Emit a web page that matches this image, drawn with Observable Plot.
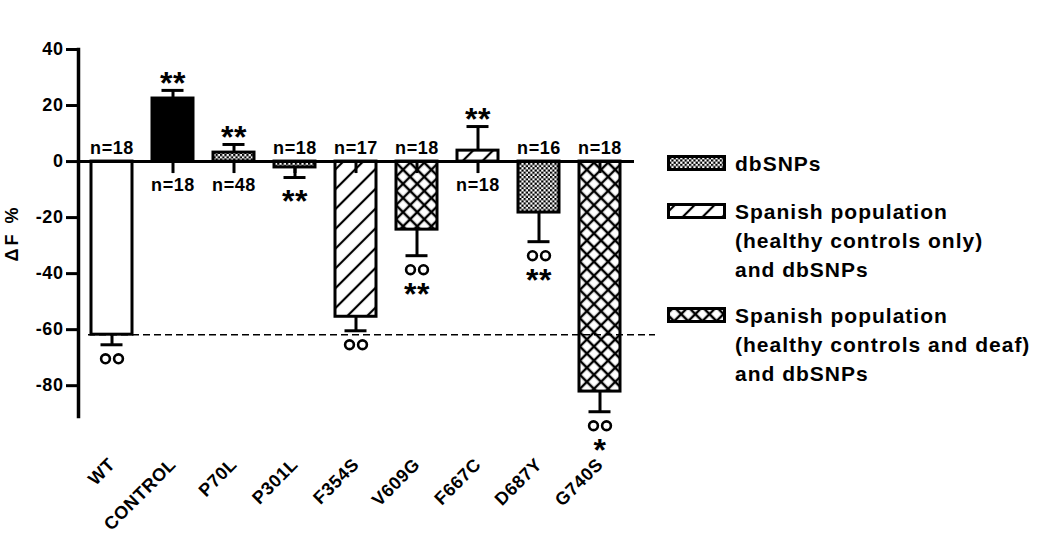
<!DOCTYPE html>
<html><head><meta charset="utf-8">
<script src="https://cdn.jsdelivr.net/npm/d3@7"></script>
<script src="https://cdn.jsdelivr.net/npm/@observablehq/plot@0.6"></script>
<style>
body{margin:0;background:#fff;}
#wrap{position:relative;width:1048px;height:534px;font-family:"Liberation Sans",Arial,sans-serif;font-weight:bold;color:#000;}
.item{position:absolute;left:667px;display:flex;align-items:flex-start;font-size:21px;letter-spacing:1px;line-height:29px;}
.item svg{flex:none;margin-right:8px;margin-top:6px;}
g[aria-label="y-axis label"] text{letter-spacing:3px;}
</style></head><body>
<svg width="0" height="0" style="position:absolute">
<defs>
<pattern id="pat-dbsnp" patternUnits="userSpaceOnUse" width="4.4" height="4.4">
<rect width="4.4" height="4.4" fill="#fff"/><rect width="2.2" height="2.2" fill="#000"/><rect x="2.2" y="2.2" width="2.2" height="2.2" fill="#000"/>
</pattern>
<pattern id="pat-hatch" patternUnits="userSpaceOnUse" width="14" height="14" patternTransform="rotate(45)">
<path d="M7,0V14" stroke="#000" stroke-width="2.2"/>
</pattern>
<pattern id="pat-cross" patternUnits="userSpaceOnUse" width="10" height="10" patternTransform="rotate(45)">
<path d="M0,5H10M5,0V10" stroke="#000" stroke-width="2.4"/>
</pattern>
</defs></svg>
<div id="wrap"></div>
<script>
const categories = ["WT","CONTROL","P70L","P301L","F354S","V609G","F667C","D687Y","G740S"];
const means = [-61.8, 22.5, 3.2, -2.1, -55.4, -24.3, 3.9, -18.2, -82.1];
const sems = [3.6, 2.9, 2.9, 3.6, 5.0, 9.3, 8.6, 10.4, 7.2];
const counts = [18, 18, 48, 18, 17, 18, 18, 16, 18];
const stars = ["", "**", "**", "**", "", "**", "**", "**", "*"];
const circles = ["oo", "", "", "", "oo", "oo", "", "oo", "oo"];
const groups = ["wt","control","dbsnp","dbsnp","healthy","deaf","healthy","dbsnp","deaf"];
const yTicks = [40, 20, 0, -20, -40, -60, -80];
const legendGroups = ["dbsnp","healthy","deaf"];
const legendLabels = [
  ["dbSNPs"],
  ["Spanish population","(healthy controls only)","and dbSNPs"],
  ["Spanish population","(healthy controls and deaf)","and dbSNPs"]
];
const fills = {wt:"#fff", control:"#000", dbsnp:"url(#pat-dbsnp)", healthy:"url(#pat-hatch)", deaf:"url(#pat-cross)"};

const rows = categories.map((c, i) => ({
  cat: c, mean: means[i], sem: sems[i], n: counts[i], stars: stars[i], circles: circles[i],
  group: groups[i], end: means[i] + (means[i] >= 0 ? 1 : -1) * sems[i], label: "n=" + counts[i]
}));
const up = rows.filter(d => d.mean >= 0);
const down = rows.filter(d => d.mean < 0);
const starsUp = up.filter(d => d.stars);
const starsDown = down.filter(d => d.stars && !d.circles);
const starsDownC = down.filter(d => d.stars && d.circles);
const withCircles = down.filter(d => d.circles);

const chart = Plot.plot({
  width: 1048, height: 534,
  marginLeft: 78, marginRight: 414, marginTop: 49, marginBottom: 118,
  x: {domain: categories, paddingInner: 0.32, paddingOuter: 0.16},
  y: {domain: [-91, 40]},
  color: {type: "identity"},
  style: {fontFamily: '"Liberation Sans", Arial, sans-serif', fontWeight: "bold", fontSize: "18px", color: "#000", background: "#fff", letterSpacing: "0.6px"},
  marks: [
    Plot.ruleX(rows, {x: "cat", y1: 0, y2: 0, insetBottom: -12, strokeWidth: 3}),
    Plot.ruleY([means[0]], {insetLeft: 10, insetRight: -21, strokeDasharray: "7,4", strokeWidth: 1.5}),
    Plot.barY(rows, {x: "cat", y: "mean", fill: d => fills[d.group], stroke: "#000", strokeWidth: 3}),
    Plot.ruleX(rows, {x: "cat", y1: "mean", y2: "end", strokeWidth: 3}),
    Plot.tickY(rows, {x: "cat", y: "end", strokeWidth: 3, insetLeft: 9.5, insetRight: 9.5}),
    Plot.ruleY([0], {strokeWidth: 3}),
    Plot.frame({anchor: "left", strokeWidth: 3.5}),
    Plot.axisY({ticks: yTicks, tickSize: 12, tickPadding: 3, tickFormat: d => String(d), strokeWidth: 3, fontSize: 18,
      label: "ΔF %", labelAnchor: "center", labelOffset: 73, labelArrow: "none"}),
    Plot.axisX({tickRotate: -45, tickSize: 0, tickPadding: 45, fontSize: 18, label: null}),
    Plot.text(down, {x: "cat", y: 0, text: "label", dy: -8, lineAnchor: "bottom", fontSize: 18}),
    Plot.text(up, {x: "cat", y: 0, text: "label", dy: 17, lineAnchor: "top", fontSize: 18}),
    Plot.text(starsUp, {x: "cat", y: "end", text: "stars", dy: -7, fontSize: 32}),
    Plot.text(starsDown, {x: "cat", y: "end", text: "stars", dy: 24, fontSize: 32}),
    Plot.text(starsDownC, {x: "cat", y: "end", text: "stars", dy: 39, fontSize: 32}),
    Plot.dot(withCircles, {x: "cat", y: "end", dy: 14, dx: -6.5, r: 4.4, stroke: "#000", strokeWidth: 2.6, fill: "#fff"}),
    Plot.dot(withCircles, {x: "cat", y: "end", dy: 14, dx: 6.5, r: 4.4, stroke: "#000", strokeWidth: 2.6, fill: "#fff"})
  ]
});
const wrap = document.getElementById("wrap");
wrap.appendChild(chart);

const tops = [149, 197, 301];
legendGroups.forEach((g, i) => {
  const item = document.createElement("div");
  item.className = "item";
  item.style.top = tops[i] + "px";
  item.innerHTML = `<svg width="60" height="17"><rect x="1.5" y="1.5" width="56" height="13" fill="${fills[g]}" stroke="#000" stroke-width="3"/></svg><div>${legendLabels[i].join("<br>")}</div>`;
  wrap.appendChild(item);
});
</script>
</body></html>
